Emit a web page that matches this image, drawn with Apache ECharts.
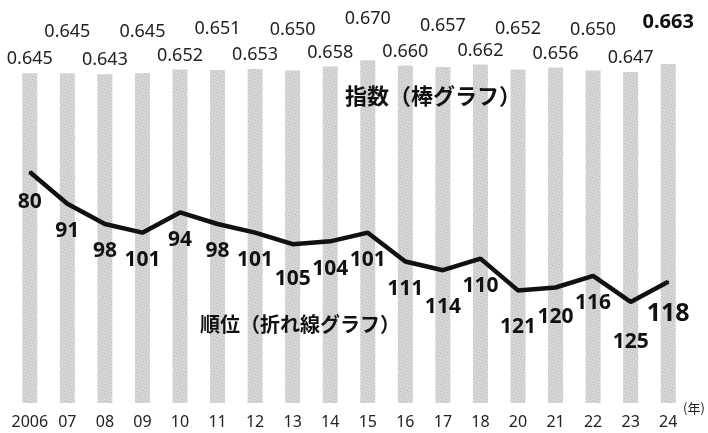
<!DOCTYPE html>
<html>
<head>
<meta charset="utf-8">
<script src="https://cdn.jsdelivr.net/npm/echarts@6/dist/echarts.min.js"></script>
<style>html,body{margin:0;padding:0;background:#fff;}#c{width:708px;height:433px;}</style>
</head>
<body>
<div id="c"></div>
<script>
const years = ['2006','07','08','09','10','11','12','13','14','15','16','17','18','20','21','22','23','24'];
const indexValues = [0.645,0.645,0.643,0.645,0.652,0.651,0.653,0.650,0.658,0.670,0.660,0.657,0.662,0.652,0.656,0.650,0.647,0.663];
const rankValues = [80,91,98,101,94,98,101,105,104,101,111,114,110,121,120,116,125,118];

// label styling (not data)
const rankLabelExtraDy = [2,0,0,0,0,0,0,7,0,0,0,9,0,9,2,0,13,3];
const last = years.length - 1;

const chart = echarts.init(document.getElementById('c'), null, {renderer:'canvas'});
const fontNum = '"Noto Sans", "Open Sans", sans-serif';
chart.setOption({
  animation: false,
  backgroundColor: '#fff',
  aria: {enabled: true, decal: {show: true}},
  grid: {left: 11, right: 21, top: 45, bottom: 30},
  xAxis: {
    type: 'category', data: years,
    axisLine: {show: false}, axisTick: {show: false},
    axisLabel: {interval: 0, fontSize: 16, color: '#222', margin: 11, fontFamily: fontNum}
  },
  yAxis: [
    {type: 'value', min: 0, max: 0.7, show: false},
    {type: 'value', min: 36, max: 160, inverse: true, show: false}
  ],
  series: [
    {
      type: 'bar', yAxisIndex: 0, barWidth: 15,
      itemStyle: {
        color: '#d6d6d6',
        decal: {symbol: 'rect', symbolSize: 0.7, color: 'rgba(20,20,20,0.5)', dashArrayX: [1, 2], dashArrayY: [1, 2], rotation: 0.3}
      },
      label: {show: true, position: 'top', distance: 5, fontSize: 18, color: '#222', fontFamily: fontNum,
        formatter: p => p.value.toFixed(3)},
      data: indexValues.map((v, i) => ({
        value: v,
        label: i === last ? {offset: [0, -27], fontSize: 20, fontWeight: 'bold', color: '#111'} : {offset: [0, i % 2 ? -27 : 0]}
      }))
    },
    {
      type: 'line', yAxisIndex: 1, symbol: 'circle', symbolSize: 2, showSymbol: true, z: 5,
      itemStyle: {color: '#111', borderWidth: 0},
      lineStyle: {color: '#111', width: 4.5},
      label: {show: true, position: 'bottom', distance: 16, fontSize: 21, fontWeight: 'bold', color: '#111', fontFamily: fontNum},
      labelLayout: {hideOverlap: false},
      data: rankValues.map((v, i) => ({
        value: v,
        label: i === last
          ? {show: true, position: 'bottom', distance: 16 + rankLabelExtraDy[i], fontSize: 25}
          : {show: true, position: 'bottom', distance: 16 + rankLabelExtraDy[i]}
      }))
    }
  ],
  graphic: [
    {type: 'text', z: 100, left: 345, top: 85, style: {text: '指数（棒グラフ）', font: 'bold 22px "Noto Sans CJK JP"', fill: '#111'}},
    {type: 'text', z: 100, left: 200, top: 314, style: {text: '順位（折れ線グラフ）', font: 'bold 20px "Noto Sans CJK JP"', fill: '#111'}},
    {type: 'text', z: 100, left: 683, top: 402, style: {text: '(年)', font: '13px "Noto Sans CJK JP"', fill: '#222'}}
  ]
});
</script>
</body>
</html>
